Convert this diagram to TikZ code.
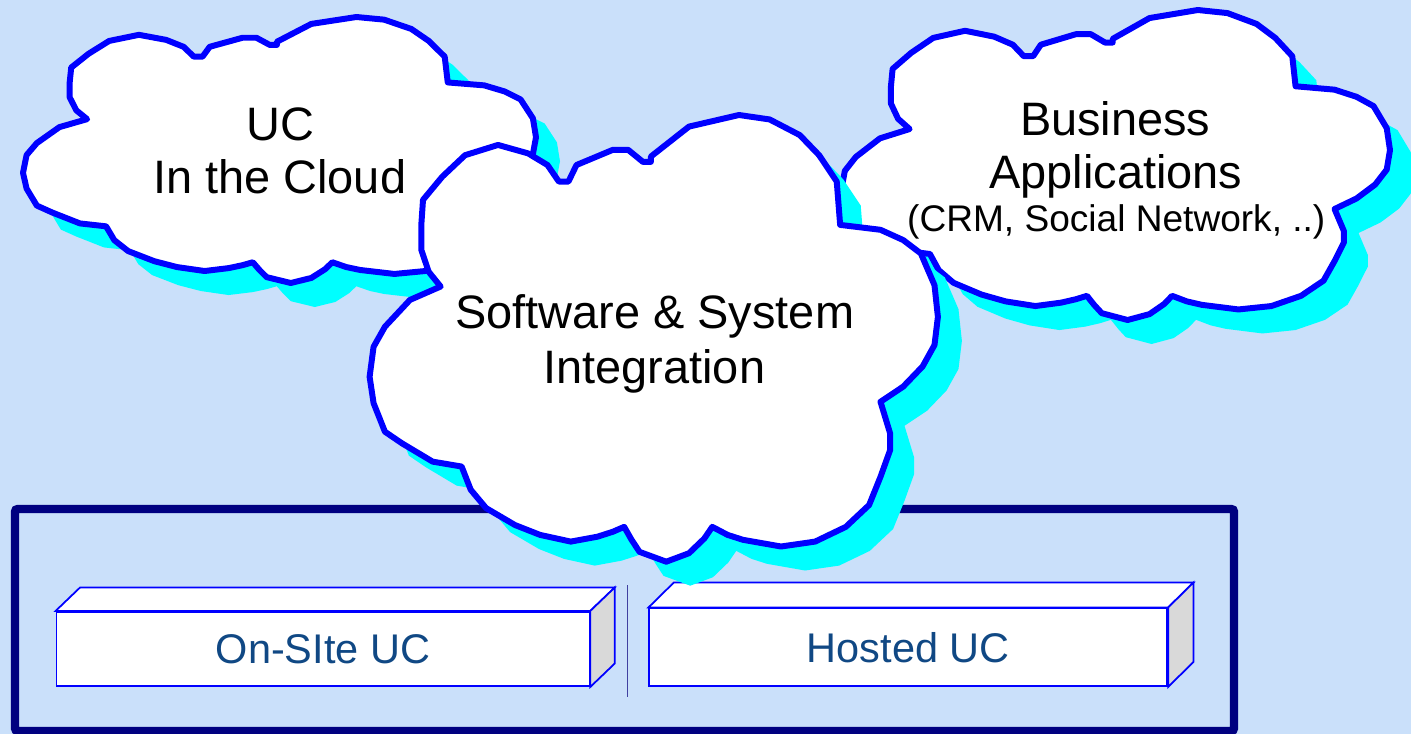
\documentclass[tikz,border=0pt]{standalone}
\usepackage{fontspec}
\setmainfont{Liberation Sans}

\definecolor{bgblue}{RGB}{202,224,250}
\definecolor{cloudblue}{RGB}{0,0,255}
\definecolor{shadowcyan}{RGB}{0,255,255}
\definecolor{framenavy}{RGB}{0,0,128}
\definecolor{sidegray}{RGB}{217,217,217}
\definecolor{labelblue}{RGB}{16,72,132}
\definecolor{sepblue}{RGB}{64,64,160}

\tikzset{
  cloudpath/.style={insert path={(0.094,0.190) -- (0.128,0.138) -- (0.168,0.090) -- (0.226,0.067) -- (0.279,0.086) -- (0.313,0.112) -- (0.333,0.149) -- (0.350,0.149) -- (0.364,0.112) -- (0.428,0.078) -- (0.455,0.078) -- (0.481,0.105) -- (0.495,0.105) -- (0.495,0.093) -- (0.562,0.026) -- (0.650,0) -- (0.704,0.010) -- (0.757,0.045) -- (0.791,0.090) -- (0.822,0.149) -- (0.828,0.246) -- (0.899,0.257) -- (0.939,0.280) -- (0.970,0.310) -- (0.994,0.381) -- (1,0.452) -- (0.994,0.515) -- (0.973,0.563) -- (0.939,0.608) -- (0.899,0.642) -- (0.916,0.713) -- (0.916,0.750) -- (0.899,0.810) -- (0.879,0.873) -- (0.838,0.922) -- (0.784,0.955) -- (0.724,0.966) -- (0.657,0.951) -- (0.630,0.940) -- (0.603,0.922) -- (0.589,0.948) -- (0.562,0.981) -- (0.522,1) -- (0.475,0.978) -- (0.461,0.951) -- (0.448,0.922) -- (0.428,0.933) -- (0.401,0.944) -- (0.354,0.955) -- (0.300,0.940) -- (0.256,0.918) -- (0.205,0.880) -- (0.178,0.839) -- (0.162,0.787) -- (0.111,0.776) -- (0.057,0.735) -- (0.027,0.709) -- (0.007,0.645) -- (0,0.586) -- (0.007,0.519) -- (0.027,0.474) -- (0.071,0.414) -- (0.125,0.384) -- (0.104,0.351) -- (0.091,0.302) -- (0.091,0.246) -- cycle}},
  cloudline/.style={draw=cloudblue, fill=white, line width=3.4pt, line join=round},
  cloudshadow/.style={fill=shadowcyan},
  cloudtext/.style={anchor=base, font=\fontsize{26.7}{31}\selectfont},
  boxface/.style={draw=cloudblue, line width=1pt, fill=white, inner sep=0pt, text=labelblue, font=\fontsize{23.6}{27}\selectfont},
  boxline/.style={draw=cloudblue, line width=1pt, fill=white},
}

% cloud with its shadow: x0, y0, width, height
\newcommand{\ucloud}[4]{%
  \fill[cloudshadow, shift={(#1+24,#2+24)}, xscale=#3, yscale=#4, cloudpath];
  \filldraw[cloudline, shift={(#1,#2)}, xscale=#3, yscale=#4, cloudpath];
}

\begin{document}
\begin{tikzpicture}[x=0.02cm, y=-0.02cm]
        \useasboundingbox (0,0) rectangle (1411,734);
        \fill[bgblue] (0,0) rectangle (1411,734);
        \draw[framenavy, line width=4.7pt, rounded corners=1.5pt] (15,509) rectangle (1234,731);
        % the two boxes
        \node (onsite) at (323,648.9) [boxface, minimum width=10.66cm, minimum height=1.486cm] {On-SIte UC\hspace{0.24cm}};
        \filldraw[boxline] (onsite.north west) -- ++(24.5,-23.5) -- ([shift={(24.5,-23.5)}]onsite.north east) -- (onsite.north east) -- cycle;
        \filldraw[boxline, fill=sidegray] (onsite.north east) -- ++(24.5,-23.5) -- ([shift={(24.5,-23.5)}]onsite.south east) -- (onsite.south east) -- cycle;
        \node (hosted) at (908.3,647.2) [boxface, minimum width=10.36cm, minimum height=1.554cm] {Hosted UC};
        \filldraw[boxline] (hosted.north west) -- ++(25.4,-25) -- ([shift={(25.4,-25)}]hosted.north east) -- (hosted.north east) -- cycle;
        \filldraw[boxline, fill=sidegray] (hosted.north east) -- ++(25.4,-25) -- ([shift={(25.4,-25)}]hosted.south east) -- (hosted.south east) -- cycle;
        \draw[sepblue, line width=0.6pt] (627.7,585) -- (627.7,697);
        % clouds
        \ucloud{23}{17}{513}{266}
        \node (ucname) at (280.6,140) [cloudtext] {UC};
        \node (ucwhere) at (279.7,193.3) [cloudtext] {In the Cloud};
        \ucloud{841}{10}{549}{310}
        \node (bizname) at (1115.3,135) [cloudtext] {Business};
        \node (bizapps) at (1115.8,188.3) [cloudtext] {Applications};
        \node (bizlist) at (1116.3,231.7) [cloudtext, font=\fontsize{21.1}{24}\selectfont] {(CRM, Social Network, ..)};
        \ucloud{369.6}{115}{568.3}{446.7}
        \node (swname) at (654.7,328.3) [cloudtext] {Software \& System};
        \node (swinteg) at (654.3,383.3) [cloudtext] {Integration};
\end{tikzpicture}
\end{document}
